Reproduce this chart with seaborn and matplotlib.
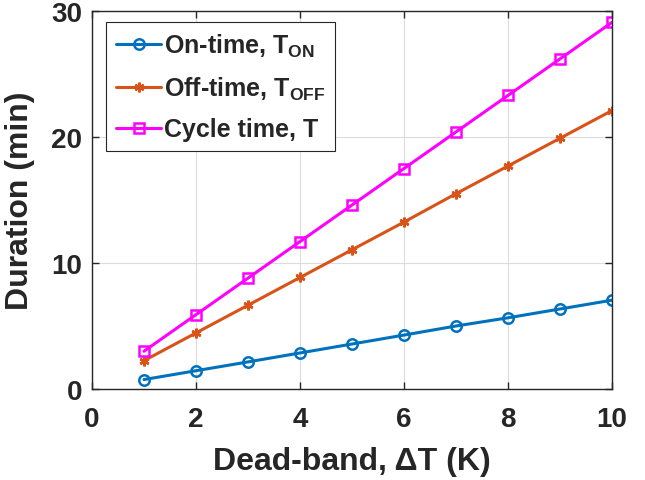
import matplotlib
matplotlib.use("Agg")
import matplotlib.pyplot as plt
import seaborn as sns
import pandas as pd

deadband = [1, 2, 3, 4, 5, 6, 7, 8, 9, 10]
on_time = [0.75, 1.45, 2.15, 2.86, 3.57, 4.28, 5.0, 5.65, 6.35, 7.05]
off_time = [2.25, 4.45, 6.65, 8.85, 11.05, 13.25, 15.5, 17.7, 19.9, 22.1]
cycle_time = [3.0, 5.9, 8.8, 11.7, 14.6, 17.5, 20.4, 23.3, 26.2, 29.1]

labels = [r"On-time, T$\mathregular{_{ON}}$",
          r"Off-time, T$\mathregular{_{OFF}}$",
          r"Cycle time, T"]
colors = ["#0072BD", "#D95319", "#FF00FF"]
markers = ["o", (6, 2, 0), "s"]

sns.set_theme(style="whitegrid")
plt.rcParams["font.family"] = ["Liberation Sans", "DejaVu Sans"]
plt.rcParams["font.weight"] = "bold"
plt.rcParams["mathtext.fontset"] = "custom"
plt.rcParams["mathtext.rm"] = "Liberation Sans:bold"
plt.rcParams["mathtext.bf"] = "Liberation Sans:bold"

fig = plt.figure(figsize=(6.45, 4.81), dpi=100)
ax = fig.add_axes([92/645, 1 - 390/481, 520/645, 378/481])

series = [on_time, off_time, cycle_time]
for vals, lab, col, mk in zip(series, labels, colors, markers):
    df = pd.DataFrame({"x": deadband, "y": vals})
    sns.lineplot(data=df, x="x", y="y", ax=ax, color=col, linewidth=2.2,
                 marker=mk, markersize=7 if mk != "o" else 7.5, markerfacecolor="none",
                 markeredgecolor=col, markeredgewidth=1.8, label=lab)

ax.set_xlim(0, 10)
ax.set_ylim(0, 30)
ax.set_xticks([0, 2, 4, 6, 8, 10])
ax.set_yticks([0, 10, 20, 30])
ax.grid(True, color="#dcdcdc", linewidth=0.8)
ax.set_facecolor("white")
for s in ax.spines.values():
    s.set_visible(True)
    s.set_color("#262626")
    s.set_linewidth(1.0)
ax.tick_params(axis="both", direction="in", length=5, width=1, colors="#262626",
               labelcolor="#262626")
ax.tick_params(axis="x", pad=12)
ax.tick_params(axis="y", pad=7)
ax.tick_params(top=True, right=True, bottom=True, left=True)
for t in ax.get_xticklabels() + ax.get_yticklabels():
    t.set_fontweight("bold")
    t.set_fontsize(20)

ax.set_xlabel(r"Dead-band, ΔT (K)", fontsize=23, fontweight="bold", color="#262626",
              labelpad=10)
ax.set_ylabel("Duration (min)", fontsize=23, fontweight="bold", color="#262626",
              labelpad=12)

leg = ax.legend(loc="upper left", bbox_to_anchor=(14/520, 1 - 11/378), fontsize=18,
                frameon=True, fancybox=False, edgecolor="#262626", framealpha=1,
                handlelength=1.8, borderpad=0.4, labelspacing=0.62, handletextpad=0.1,
                borderaxespad=0)
leg.get_frame().set_linewidth(0.8)
for t in leg.get_texts():
    t.set_fontweight("bold")

fig.savefig("out.png", dpi=100)
